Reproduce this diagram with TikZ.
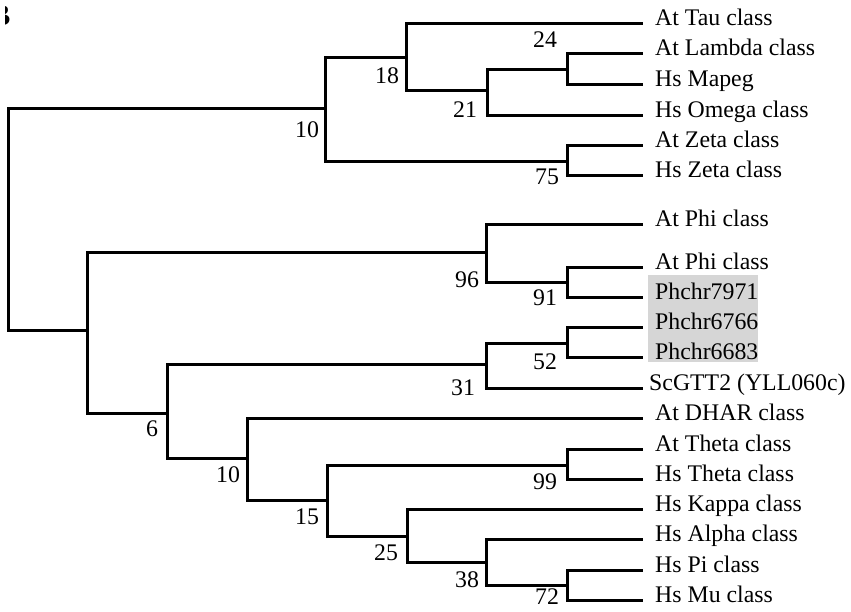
\documentclass[tikz,border=0pt]{standalone}
\usepackage{fontspec}
\setmainfont{Liberation Serif}
\usepackage{xcolor}
\definecolor{hlgray}{RGB}{214,214,214}
\usepackage{tikz}
\usetikzlibrary{positioning}

\tikzset{
  branch/.style={draw=black, line width=3pt},
  leaf/.style={anchor=west, inner xsep=12pt, inner ysep=0pt, text height=10pt, text depth=6pt,
    font=\fontsize{23.8}{28}\selectfont},
  boot/.style={anchor=center, inner sep=0pt, font=\fontsize{23.8}{28}\selectfont}
}

\begin{document}
\begin{tikzpicture}[x=1pt, y=-1pt]
  \useasboundingbox (0,0) rectangle (851,611);

  % panel letter, cut at the edge
  \begin{scope}
    \clip (5,0) rectangle (12,40);
    \node[anchor=base east, inner sep=0pt, font=\fontsize{30}{32}\selectfont\bfseries] (panel) at (10.5,25) {B};
  \end{scope}

  % highlight
  \fill[hlgray] (648,275) rectangle (758,362);

  % junctions
  \coordinate (root) at (8,219);
  \coordinate (n10a) at (325,108);
  \coordinate (n18) at (406,57);
  \coordinate (n21) at (487,90);
  \coordinate (n24) at (567,69);
  \coordinate (n75) at (567,161);
  \coordinate (n87) at (87,330);
  \coordinate (n96) at (486,252);
  \coordinate (n91) at (567,282);
  \coordinate (n6) at (167,413);
  \coordinate (n31) at (486,364);
  \coordinate (n52) at (567,343);
  \coordinate (n10b) at (247,458);
  \coordinate (n15) at (327,500);
  \coordinate (n99) at (567,465);
  \coordinate (n25) at (407,536);
  \coordinate (n38) at (486,562);
  \coordinate (n72) at (567,585);

  % leaves
  \node[leaf] (tau) at (643,23) {At Tau class};
  \node[leaf] (lambda) at (643,53) {At Lambda class};
  \node[leaf] (mapeg) at (643,84) {Hs Mapeg};
  \node[leaf] (omega) at (643,115) {Hs Omega class};
  \node[leaf] (zetaat) at (643,145) {At Zeta class};
  \node[leaf] (zetahs) at (643,175) {Hs Zeta class};
  \node[leaf] (phia) at (643,224) {At Phi class};
  \node[leaf] (phib) at (643,267) {At Phi class};
  \node[leaf] (ph7971) at (643,297) {Phchr7971};
  \node[leaf] (ph6766) at (643,327) {Phchr6766};
  \node[leaf] (ph6683) at (643,357) {Phchr6683};
  \node[leaf, inner xsep=6pt] (gtt2) at (643,388) {ScGTT2 (YLL060c)};
  \node[leaf] (dhar) at (643,418) {At DHAR class};
  \node[leaf] (thetaat) at (643,449) {At Theta class};
  \node[leaf] (thetahs) at (643,479) {Hs Theta class};
  \node[leaf] (kappa) at (643,509) {Hs Kappa class};
  \node[leaf] (alpha) at (643,539) {Hs Alpha class};
  \node[leaf] (pi) at (643,570) {Hs Pi class};
  \node[leaf] (mu) at (643,600) {Hs Mu class};

  % branches
  \draw[branch] (root) |- (n10a);
  \draw[branch] (root) |- (n87);
  \draw[branch] (n10a) |- (n18);
  \draw[branch] (n10a) |- (n75);
  \draw[branch] (n18) |- (tau.west);
  \draw[branch] (n18) |- (n21);
  \draw[branch] (n21) |- (n24);
  \draw[branch] (n21) |- (omega.west);
  \draw[branch] (n24) |- (lambda.west);
  \draw[branch] (n24) |- (mapeg.west);
  \draw[branch] (n75) |- (zetaat.west);
  \draw[branch] (n75) |- (zetahs.west);
  \draw[branch] (n87) |- (n96);
  \draw[branch] (n87) |- (n6);
  \draw[branch] (n96) |- (phia.west);
  \draw[branch] (n96) |- (n91);
  \draw[branch] (n91) |- (phib.west);
  \draw[branch] (n91) |- (ph7971.west);
  \draw[branch] (n6) |- (n31);
  \draw[branch] (n6) |- (n10b);
  \draw[branch] (n31) |- (n52);
  \draw[branch] (n31) |- (gtt2.west);
  \draw[branch] (n52) |- (ph6766.west);
  \draw[branch] (n52) |- (ph6683.west);
  \draw[branch] (n10b) |- (dhar.west);
  \draw[branch] (n10b) |- (n15);
  \draw[branch] (n15) |- (n99);
  \draw[branch] (n15) |- (n25);
  \draw[branch] (n99) |- (thetaat.west);
  \draw[branch] (n99) |- (thetahs.west);
  \draw[branch] (n25) |- (kappa.west);
  \draw[branch] (n25) |- (n38);
  \draw[branch] (n38) |- (alpha.west);
  \draw[branch] (n38) |- (n72);
  \draw[branch] (n72) |- (pi.west);
  \draw[branch] (n72) |- (mu.west);

  % bootstrap values
  \node[boot] (b24) at (545,40) {24};
  \node[boot] (b18) at (387,76) {18};
  \node[boot] (b21) at (465,110) {21};
  \node[boot] (b10a) at (307,130) {10};
  \node[boot] (b75) at (547,177) {75};
  \node[boot] (b96) at (467,280) {96};
  \node[boot] (b91) at (545,298) {91};
  \node[boot] (b52) at (545,362) {52};
  \node[boot] (b31) at (463,388) {31};
  \node[boot] (b6) at (152,429) {6};
  \node[boot] (b10b) at (228,475) {10};
  \node[boot] (b99) at (545,482) {99};
  \node[boot] (b15) at (307,517) {15};
  \node[boot] (b25) at (386,553) {25};
  \node[boot] (b38) at (467,580) {38};
  \node[boot] (b72) at (547,597) {72};
\end{tikzpicture}
\end{document}
